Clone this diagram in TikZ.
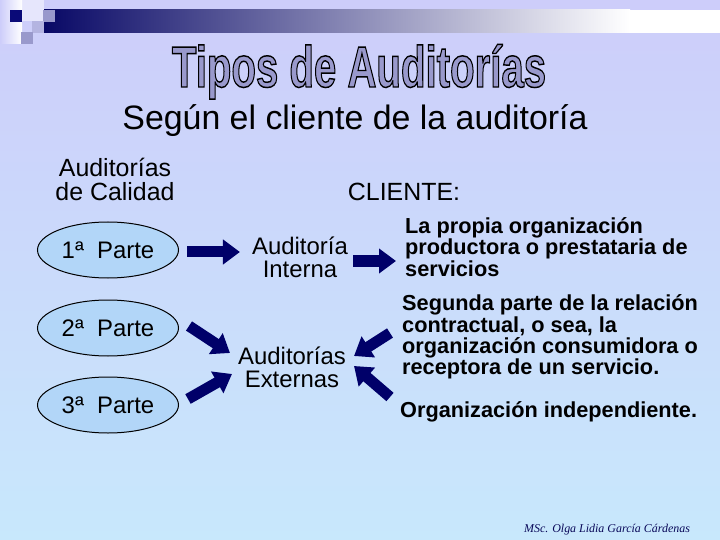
\documentclass[tikz,border=0pt]{standalone}
\usepackage{fontspec}
\setmainfont{Liberation Sans}
\newfontfamily\footfont{Liberation Serif}
\usetikzlibrary{arrows.meta,shapes.geometric}
\definecolor{bgtop}{RGB}{205,205,250}
\definecolor{bgbot}{RGB}{200,232,252}
\definecolor{navydark}{RGB}{10,10,120}
\definecolor{arrowc}{RGB}{0,0,105}
\definecolor{ellfill}{RGB}{178,214,248}
\definecolor{titlefill}{RGB}{153,153,204}
\definecolor{sqa}{RGB}{153,153,204}
\definecolor{sqb}{RGB}{180,180,225}
\definecolor{footc}{RGB}{10,10,90}
\newcommand{\titletext}{\scalebox{0.72}[1.04]{\fontsize{56}{56}\selectfont\bfseries\color{titlefill}\special{pdf:code 0 G 1.4 w 2 Tr}Tipos de Auditorías\special{pdf:code 0 Tr}}}
\begin{document}
\begin{tikzpicture}[x=1bp,y=-1bp,
  ell/.style={ellipse, draw=black, line width=1bp, fill=ellfill, minimum width=141bp, minimum height=56bp, font=\fontsize{24}{24}\selectfont, inner sep=0},
  lbl/.style={align=center, font=\fontsize{24}{23}\selectfont, inner sep=0},
  desc/.style={align=left, anchor=west, font=\fontsize{21.8}{21.5}\selectfont\bfseries, inner sep=0},
  barrow/.style={draw=arrowc, line width=11bp, -{Triangle[length=17bp,width=24bp]}}]
\useasboundingbox (0,0) rectangle (720,540);
\shade[top color=bgtop, bottom color=bgbot] (0,0) rectangle (720,540);
% top decoration
\shade[left color=bgtop, right color=white] (0,0) rectangle (22,44);
\fill[white, opacity=0.5] (22,0) rectangle (44,21);
\shade[left color=navydark!85!black, right color=white] (44,10) rectangle (630,33);
\fill[white] (629,10) rectangle (720,33);
\fill[navydark] (10,10) rectangle (22,22);
\fill[sqa] (43,10) rectangle (55,22);
\fill[sqb] (32,21) rectangle (44,33);
\fill[sqa] (21,32) rectangle (33,44);
% title
\node[anchor=base, inner sep=0] (title) at (359,87) {\titletext};
\node[font=\fontsize{34}{34}\selectfont, inner sep=0] (sub) at (355,121) {Según el cliente de la auditoría};
\node[lbl, font=\fontsize{25}{24}\selectfont] (cal) at (115,179) {Auditorías\\de Calidad};
\node[font=\fontsize{25}{25}\selectfont, inner sep=0] (cli) at (404,192) {CLIENTE:};
% ellipses
\node[ell] (p1) at (108,250) {1ª~~Parte};
\node[ell] (p2) at (108,328) {2ª~~Parte};
\node[ell] (p3) at (108,405) {3ª~~Parte};
% middle
\node[lbl] (ai) at (300,257) {Auditoría\\Interna};
\node[lbl] (ae) at (292,367) {Auditorías\\Externas};
% right
\node[desc] (d1) at (405,247) {La propia organización\\productora o prestataria de\\servicios};
\node[desc] (d2) at (402,337) {Segunda parte de la relación\\contractual, o sea, la\\organización consumidora o\\receptora de un servicio.};
\node[desc] (d3) at (400,412) {Organización independiente.};
% arrows
\coordinate (e3) at (230,353);
\coordinate (e4) at (232,374);
\coordinate (e5) at (354,356);
\coordinate (e6) at (354,366);
\draw[barrow] ([shift={(8,2)}]p1.east) -- ([shift={(-12,2)}]ai.west |- p1.east);
\draw[barrow] ([xshift=-52bp]d1.west |- 0,261) -- ([xshift=-9bp]d1.west |- 0,261);
\draw[barrow] ([shift={(10,-2)}]p2.east) -- (e3);
\draw[barrow] ([shift={(9,-6)}]p3.east) -- (e4);
\draw[barrow] ([xshift=-12bp]d2.west |- 0,333) -- (e5);
\draw[barrow] ([xshift=-10bp]d3.west |- 0,397) -- (e6);
% footer
\node[font=\footfont\itshape\fontsize{12}{12}\selectfont, text=footc, inner sep=0] (foot) at (607,530) {MSc. Olga Lidia García Cárdenas};
\end{tikzpicture}
\end{document}
